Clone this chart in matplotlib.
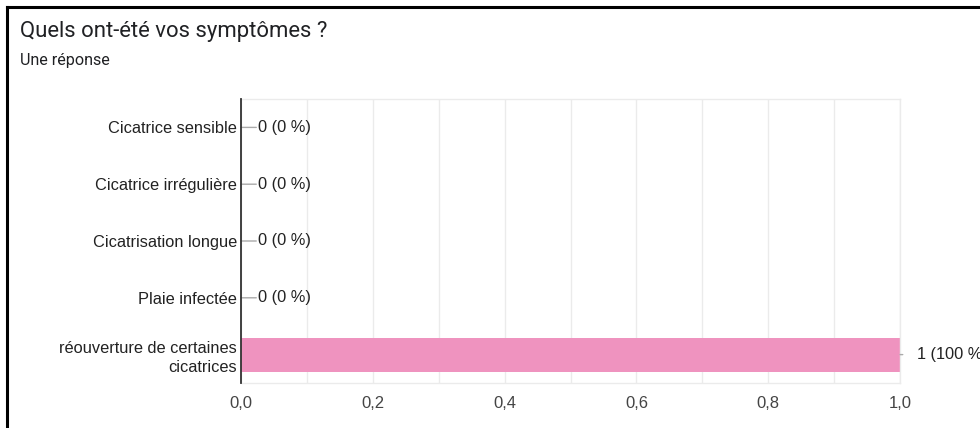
import matplotlib
matplotlib.use("Agg")
import matplotlib.pyplot as plt
from matplotlib.ticker import MultipleLocator, FuncFormatter

categories = [
    "Cicatrice sensible",
    "Cicatrice irrégulière",
    "Cicatrisation longue",
    "Plaie infectée",
    "réouverture de certaines\ncicatrices",
]
counts = [0, 0, 0, 0, 1]
total_responses = 1
x_ticks = [0.0, 0.2, 0.4, 0.6, 0.8, 1.0]

W, H = 980, 428
fig = plt.figure(figsize=(W / 100, H / 100), dpi=100)
fig.patch.set_facecolor("white")

# card frame (top and left edges)
fig.add_artist(plt.Line2D([7 / W, 7 / W], [0, 1 - 7 / H], color="black", lw=2.2,
                          transform=fig.transFigure))
fig.add_artist(plt.Line2D([7 / W, 1], [1 - 7 / H, 1 - 7 / H], color="black", lw=2.2,
                          transform=fig.transFigure))

fig.text(20 / W, 1 - 32 / H, "Quels ont-été vos symptômes ?", fontsize=15.9,
         family="Roboto", color="#202124", va="center", ha="left")
fig.text(20 / W, 1 - 61 / H, "Une réponse", fontsize=11.6, family="Roboto",
         color="#202124", va="center", ha="left")

left, right, top, bottom = 241, 900, 99, 383
ax = fig.add_axes([left / W, 1 - bottom / H, (right - left) / W, (bottom - top) / H])

ypos = list(range(len(categories)))
ax.barh(ypos, counts, height=0.6, color="#ef93bf", zorder=2)
ax.set_ylim(len(categories) - 0.5, -0.5)
ax.set_xlim(0, 1.0)

ax.set_yticks(ypos)
ax.set_yticklabels(categories, fontsize=11.8, family="Liberation Sans", color="#222222",
                   linespacing=1.35)
ax.tick_params(axis="y", length=0, pad=3)
for lbl in ax.get_yticklabels():
    lbl.set_multialignment("right")

ax.set_xticks(x_ticks)
ax.xaxis.set_minor_locator(MultipleLocator(0.1))
ax.xaxis.set_major_formatter(FuncFormatter(lambda v, p: f"{v:.1f}".replace(".", ",")))
ax.tick_params(axis="x", length=0, which="both", pad=9, labelsize=12, labelcolor="#444444")
for lbl in ax.get_xticklabels():
    lbl.set_family("Liberation Sans")

ax.grid(axis="x", which="both", color="#ebebeb", lw=1, zorder=0)
for s in ["top", "right", "bottom"]:
    ax.spines[s].set_color("#ebebeb")
    ax.spines[s].set_linewidth(1)
ax.spines["left"].set_color("#333333")
ax.spines["left"].set_linewidth(1.3)
ax.spines["left"].set_zorder(3)

# value labels with short leader lines
for y, c in zip(ypos, counts):
    pct = round(100 * c / total_responses)
    lead = 11 if c == 0 else 2
    ax.annotate("", xy=(c, y), xytext=(lead, 0), textcoords="offset points",
                arrowprops=dict(arrowstyle="-", color="#aaaaaa", lw=1,
                                shrinkA=0, shrinkB=0),
                annotation_clip=False)
    ax.annotate(f"{c} ({pct} %)", xy=(c, y), xytext=(12.5 if c == 0 else 12, 0),
                textcoords="offset points", va="center", ha="left",
                fontsize=11.8, family="Liberation Sans", color="#222222",
                annotation_clip=False)

fig.savefig("out.png", dpi=100, facecolor="white")
